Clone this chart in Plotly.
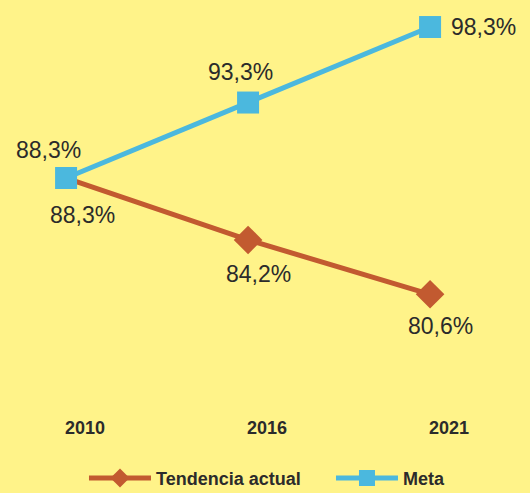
import plotly.graph_objects as go

years = ["2010", "2016", "2021"]
tendencia = [88.3, 84.2, 80.6]
meta = [88.3, 93.3, 98.3]
tendencia_labels = ["88,3%", "84,2%", "80,6%"]
meta_labels = ["88,3%", "93,3%", "98,3%"]

bg = "#FFF389"
orange = "#C25A30"
blue = "#4BB8DE"
text_col = "#2B2B2B"

fig = go.Figure()

# the 2010 diamond sits hidden under the Meta square in the original
fig.add_trace(go.Scatter(x=years, y=tendencia, mode="lines+markers", name="Tendencia actual",
                         line=dict(color=orange, width=5),
                         marker=dict(symbol="diamond", size=[0, 22, 22], color=orange,
                                     opacity=1, line=dict(width=0))))
fig.add_trace(go.Scatter(x=years, y=meta, mode="lines+markers", name="Meta",
                         line=dict(color=blue, width=5),
                         marker=dict(symbol="square", size=22, color=blue)))

# value labels, nudged around the markers (x given as category index)
meta_shift = [(-18, 28, "center"), (-8, 31, "center"), (19, 0, "left")]
tend_shift = [(16, -37, "center"), (10, -34, "center"), (10, -32, "center")]
for i, (v, lab, (dx, dy, anc)) in enumerate(zip(meta, meta_labels, meta_shift)):
    fig.add_annotation(x=i, y=v, xref="x", yref="y", text=lab, showarrow=False,
                       xshift=dx, yshift=dy, xanchor=anc,
                       font=dict(size=23, color=text_col))
for i, (v, lab, (dx, dy, anc)) in enumerate(zip(tendencia, tendencia_labels, tend_shift)):
    fig.add_annotation(x=i, y=v, xref="x", yref="y", text=lab, showarrow=False,
                       xshift=dx, yshift=dy, xanchor=anc,
                       font=dict(size=23, color=text_col))

# category labels sit a bit to the right of the points
for i, yr in enumerate(years):
    fig.add_annotation(x=i, y=0.132, xref="x", yref="paper", yanchor="middle",
                       text="<b>" + yr + "</b>", showarrow=False, xshift=19,
                       font=dict(size=18, color=text_col))

fig.update_layout(
    width=530, height=493,
    margin=dict(l=0, r=0, t=0, b=0, autoexpand=False),
    paper_bgcolor=bg, plot_bgcolor=bg,
    font=dict(family="Liberation Sans, Arial, sans-serif", color=text_col),
    showlegend=True,
    legend=dict(orientation="h", x=0.6245, xanchor="center", y=0.03, yanchor="middle",
                itemwidth=62, entrywidth=170, entrywidthmode="pixels",
                font=dict(size=18, color=text_col, weight="bold"),
                bgcolor="rgba(0,0,0,0)"),
    hovermode=False,
)
fig.update_xaxes(type="category", range=[-0.363, 2.549], showgrid=False, zeroline=False,
                 showticklabels=False, showline=False)
fig.update_yaxes(range=[67.44, 100.09], showgrid=False, zeroline=False,
                 showticklabels=False, showline=False)

fig.write_html("out.html", config={"displayModeBar": False},
               post_script="document.body.style.margin='0';")
